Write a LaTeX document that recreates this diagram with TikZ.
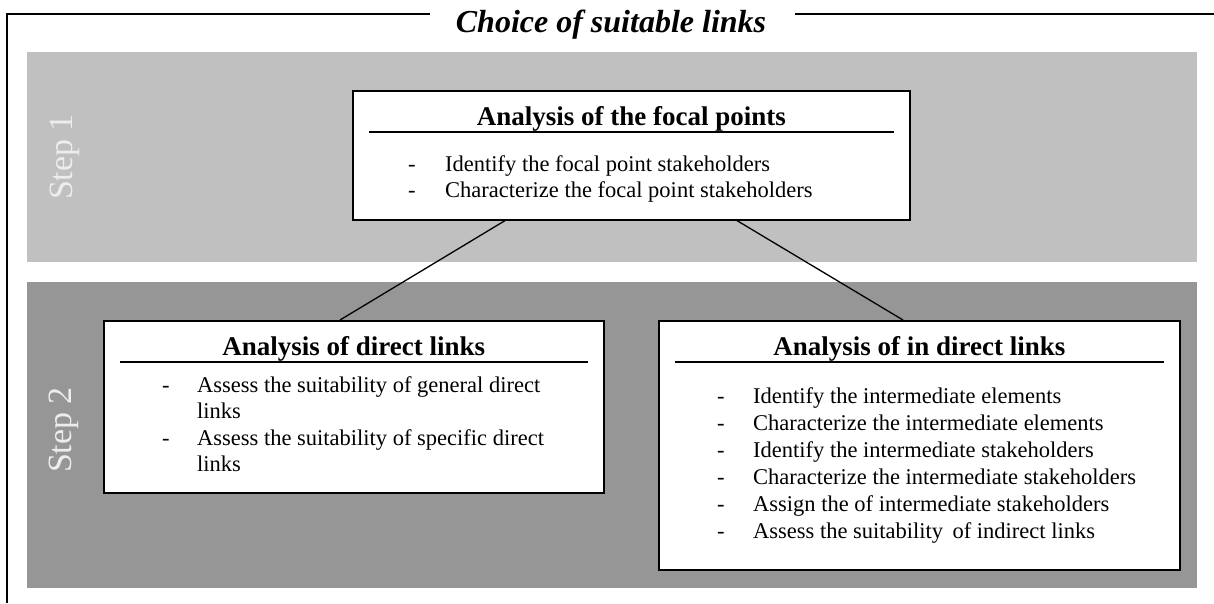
\documentclass[tikz,border=0pt]{standalone}
\usepackage{fontspec}
\setmainfont{Liberation Serif}
\usetikzlibrary{calc}
\definecolor{bandlight}{HTML}{C0C0C0}
\definecolor{banddark}{HTML}{969696}
\begin{document}
\begin{tikzpicture}[x=1pt,y=-1pt,
  stepbox/.style={draw,line width=1.6pt,fill=white,anchor=north west,inner sep=0pt},
  boxtitle/.style={font=\fontsize{27}{30}\selectfont\bfseries,anchor=base,inner sep=0pt},
  item/.style={font=\fontsize{22.5}{26.5}\selectfont,anchor=base west,inner sep=0pt},
  steplabel/.style={font=\fontsize{34}{36}\selectfont,text=white!93!black,rotate=90}]
\useasboundingbox (0,0) rectangle (1214,603);
% frame with title
\node[font=\fontsize{32}{36}\selectfont\bfseries\itshape,anchor=base,inner sep=0pt] (title) at (611,32) {Choice of suitable links};
\draw[line width=2pt] (7,603)--(7,14)--(430,14);
\draw[line width=2pt] (795,14)--(1214,14);
% the two steps
\fill[bandlight] (27,52) rectangle (1197,262);
\fill[banddark] (27,282) rectangle (1197,588);
\node[steplabel] (step1) at (65,157) {Step 1};
\node[steplabel] (step2) at (64,430) {Step 2};
% boxes
\node[stepbox,minimum width=557pt,minimum height=129pt] (focal) at (352,90) {};
\node[stepbox,minimum width=500pt,minimum height=172pt] (direct) at (103,320) {};
\node[stepbox,minimum width=521pt,minimum height=249pt] (indirect) at (658,320) {};
\draw[line width=1.3pt] ($(focal.south west)+(153,0)$)--($(direct.north west)+(237,0)$);
\draw[line width=1.3pt] ($(focal.south west)+(385,0)$)--($(indirect.north west)+(245,0)$);
% focal points
\node[boxtitle] (focal-t) at ($(focal.north)+(0,35)$) {Analysis of the focal points};
\draw[line width=1.6pt] ($(focal.north west)+(17,42)$)--($(focal.north east)+(-17,42)$);
\foreach \t [count=\i] in {Identify the focal point stakeholders,Characterize the focal point stakeholders}{
  \node[item] (focal-d\i) at ($(focal.north west)+(56,55+26*\i)$) {-};
  \node[item] (focal-\i) at ($(focal.north west)+(93,55+26*\i)$) {\t};
}
% direct links
\node[boxtitle] (direct-t) at ($(direct.north)+(0,35)$) {Analysis of direct links};
\draw[line width=1.6pt] ($(direct.north west)+(17,42)$)--($(direct.north east)+(-17,42)$);
\node[item] (direct-d1) at ($(direct.north west)+(59,72)$) {-};
\node[item] (direct-1) at ($(direct.north west)+(94,72)$) {Assess the suitability of general direct};
\node[item] (direct-1b) at ($(direct.north west)+(94,98)$) {links};
\node[item] (direct-d2) at ($(direct.north west)+(59,125)$) {-};
\node[item] (direct-2) at ($(direct.north west)+(94,125)$) {Assess the suitability of specific direct};
\node[item] (direct-2b) at ($(direct.north west)+(94,151)$) {links};
% indirect links
\node[boxtitle] (indirect-t) at ($(indirect.north)+(0,35)$) {Analysis of in direct links};
\draw[line width=1.6pt] ($(indirect.north west)+(17,42)$)--($(indirect.north east)+(-17,42)$);
\foreach \t [count=\i] in {Identify the intermediate elements,Characterize the intermediate elements,
  Identify the intermediate stakeholders,Characterize the intermediate stakeholders,
  Assign the of intermediate stakeholders,Assess the suitability\, of indirect links}{
  \node[item] (indirect-d\i) at ($(indirect.north west)+(59,56+27*\i)$) {-};
  \node[item] (indirect-\i) at ($(indirect.north west)+(95,56+27*\i)$) {\t};
}
\end{tikzpicture}
\end{document}
